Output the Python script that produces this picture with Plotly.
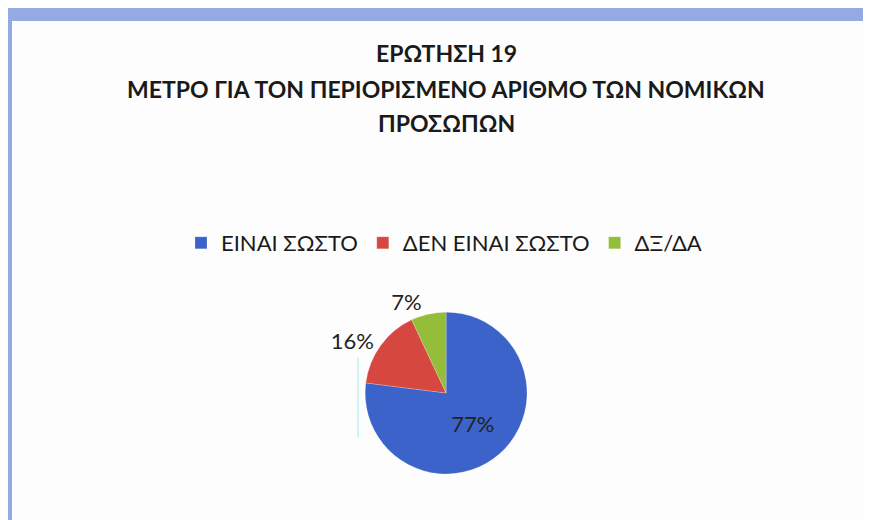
import plotly.graph_objects as go

# survey answers for question 19
labels = ["ΕΊΝΑΙ ΣΩΣΤΟ", "ΔΕΝ ΕΊΝΑΙ ΣΩΣΤΟ", "ΔΞ/ΔΑ"]
values = [77, 16, 7]
colors = ["#3B63C9", "#D5473F", "#94BE3A"]

title_lines = ["ΕΡΩΤΗΣΗ 19", "ΜΕΤΡΟ ΓΙΑ ΤΟΝ ΠΕΡΙΟΡΙΣΜΕΝΟ ΑΡΙΘΜΟ ΤΩΝ ΝΟΜΙΚΩΝ", "ΠΡΟΣΩΠΩΝ"]

OFF = 8  # the page body adds an 8px margin around the figure
W, H = 871 - OFF, 520 - OFF  # keep the figure inside the window, no scrollbars
FONT = "Lato, 'Open Sans', sans-serif"


def px_x(x):
    return (x - OFF) / W


def px_y(y):
    return 1 - (y - OFF) / H


pie = go.Pie(
    labels=labels,
    values=values,
    sort=False,
    direction="clockwise",
    rotation=0,
    marker=dict(colors=colors, line=dict(color="rgba(255,255,255,0.4)", width=0.5)),
    texttemplate="%{percent:.0%}",
    textposition=["inside", "outside", "outside"],
    textfont=dict(size=22, color="#222222", family=FONT),
    insidetextorientation="horizontal",
    domain=dict(x=[0.3563, 0.659], y=[0.090, 0.406]),
    hoverinfo="label+percent",
)

fig = go.Figure(data=[pie])

# scanned page frame: light blue band along the top and left edges
fig.add_shape(type="rect", xref="paper", yref="paper",
              x0=0, x1=1, y0=px_y(21), y1=1,
              line=dict(width=0), fillcolor="#93ABE2", layer="below")
fig.add_shape(type="rect", xref="paper", yref="paper",
              x0=0, x1=px_x(12), y0=0, y1=1,
              line=dict(width=0), fillcolor="#93ABE2", layer="below")
# faint scan artifact line left of the pie
fig.add_shape(type="line", xref="paper", yref="paper",
              x0=px_x(358), x1=px_x(358), y0=px_y(437), y1=px_y(358),
              line=dict(color="#BDEFF5", width=1.5))

# title, one annotation per line to keep the wide line spacing
for line, ypx in zip(title_lines, [53, 89, 123]):
    fig.add_annotation(text=line, xref="paper", yref="paper",
                       x=px_x(446), y=px_y(ypx), xanchor="center", yanchor="middle",
                       showarrow=False,
                       font=dict(size=23, family=FONT, color="#1A1A1A", weight="bold"))

fig.update_layout(
    width=W, height=H,
    paper_bgcolor="#FDFDFD",
    plot_bgcolor="#FDFDFD",
    margin=dict(l=0, r=0, t=0, b=0),
    font=dict(family=FONT, color="#1A1A1A"),
    showlegend=True,
    legend=dict(
        orientation="h", x=px_x(444), xanchor="center", y=px_y(243), yanchor="middle",
        font=dict(size=22, family=FONT, color="#1A1A1A"),
        itemwidth=30, bgcolor="rgba(0,0,0,0)",
    ),
)

fig.write_html("out.html")
